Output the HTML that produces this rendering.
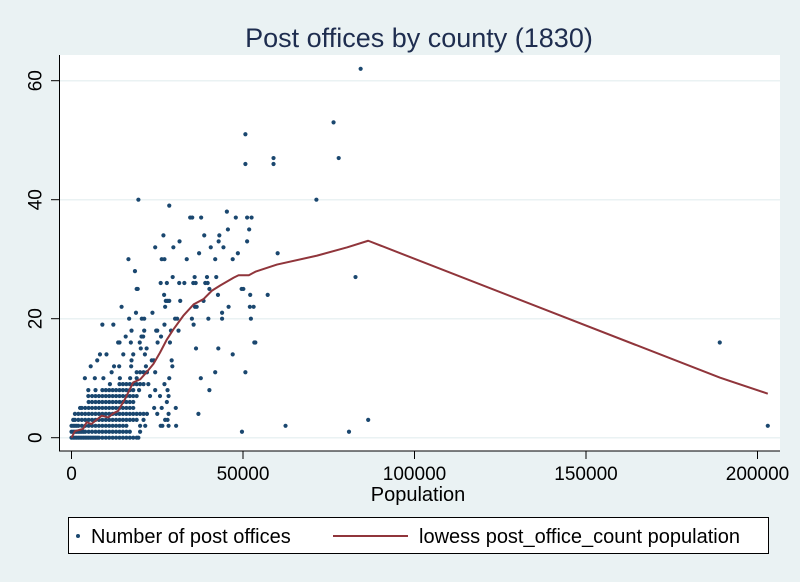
<!DOCTYPE html>
<html><head><meta charset="utf-8"><style>
html,body{margin:0;padding:0;background:#eaf2f3;}
svg{display:block;font-family:"Liberation Sans",sans-serif;}
</style></head><body>
<svg id="chart" width="800" height="582" viewBox="0 0 800 582" xmlns="http://www.w3.org/2000/svg">
<rect x="0" y="0" width="800" height="582" fill="#eaf2f3"/>
<text x="419" y="47" text-anchor="middle" font-size="27" fill="#1e2d4f">Post offices by county (1830)</text>
<rect x="59" y="55" width="721" height="396" fill="#fff"/>
<g id="grid"></g>
<g id="yaxis"></g>
<g id="xaxis"></g>
<g id="points"></g>
<g id="lowess"></g>
<text x="418" y="501" text-anchor="middle" font-size="20" fill="#000">Population</text>
<g>
<rect x="68.5" y="517.5" width="700" height="36" fill="#fff" stroke="#000" stroke-width="1"/>
<circle cx="78" cy="536" r="2" fill="#1a476f"/>
<text x="91" y="543" font-size="20" fill="#000">Number of post offices</text>
<line x1="333" y1="536" x2="408" y2="536" stroke="#90353b" stroke-width="2"/>
<text x="419" y="543" font-size="20" fill="#000">lowess post_office_count population</text>
</g>
</svg>
<script>
const xTicks=[0,50000,100000,150000,200000];
const yTicks=[0,20,40,60];
const rowCounts=[0,1,2,3,4,5,6,7,8,9,10,11,12,13,14,15,16,17,18,19,20,21,22,23,24,25,26,27,28,29,30,31,32,33,34,35,37,38,39,40,46,47,51,53,62];
const rowPopsK=[
[0,0.5,1,1.5,2,2.5,3,3.5,4,4.5,5,5.5,6,6.5,7,7.5,8,9,10,11,12,13,14,15,16,17,18,19,19.5],
[0,0.5,1,1.5,2,2.5,3,3.5,4,5,6,7,8,9,10,11,12,13,14,15,16,17,20,49.7,80.9],
[0,0.5,1,1.5,2,3,4,5,6,7,8,9,10,11,12,13,14,15,16,20,21.5,26,26.5,28.3,30.5,62.4,203],
[0.5,1,2,3,4,5,6,7,8,9,10,11,12,13,14,15,16,17,18,19,21,27.3,28,86.5],
[1,2,3,4,5,6,7,8,9,10,11,12,13,14,15,16,17,18,19,20,21,22,25,28.3,37],
[2.5,3,4,5,6,7,8,9,10,11,12,13,14,15,16,17,18,24.1,26.3,30.4],
[5,6,7,8,9,10,11,12,13,14,15,16,17,18,27.8],
[4.9,6,7,8,9,10,11,12,13,14,15,16,17,18,19,22.9,25.8,28.3],
[4.9,7,9,10,11,12,13,14,15,16,17,18,19.7,24.4,28,40.2],
[11.2,14,15,16,17,18,19,20,21,22.4,27.1],
[3.9,6.8,9.3,14.1,17.1,19,28.5,37.7],
[11.7,19,20,21,22,24.4,41.9,50.7],
[5.6,12.4,13.9,17.4,21.7,29.4],
[7.5,17.5,23.4,24,29.2],
[8.3,10.2,15.1,18,21.4,47],
[20.2,21.9,36.3,42.8],
[13.6,14,17.3,19.9,25.1,28.7,53.3,53.6],
[15.8,20.4,20.9,26.1],
[17.5,21.2,24.7,25,29,31.2],
[9,12.2,27.1,35.6],
[16.8,20.5,21.2,30.2,30.8,35.1,39.9,43.9,52.3],
[18.8,23.6,43.9],
[14.6,27.3,36,36.5,45.8,53.1,52],
[27.5,28,28.5,31.7,38.5],
[27,42.7,52.1,57.2],
[19,19.3,40.2,49.6,50.1],
[26,27.8,31.4,32.9,35.5,36.2,39,39.7],
[29.5,35.9,39.5,42.2,82.8],
[18.5],
[],
[16.6,26.3,27.1,33.6,41.9,47],
[37.2,48.5,60.1],
[24.4,29.7,40.6,44.3],
[31.5,42.9,51.2],
[26.8,38.7,43.1],
[45.6,51.8],
[34.6,35.2,37.8,47.9,51.2,52.5],
[45.3],
[28.5],
[19.5,71.4],
[50.7,58.9],
[58.9,77.9],
[50.7],
[76.4],
[84.3]
];
const lowessPopK=[0,1,3.4,4.4,5.8,8.8,10.7,12.2,13.6,15.6,18,20,21.9,23.9,25.8,27.8,29.7,32.6,35.6,38.5,40.9,43.4,47.3,48.7,51.7,53.6,59.9,71.6,80.4,86.5,189,203];
const lowessVals=[0,1.1,1.5,2.6,2.3,3.7,3.4,4.1,4.5,6.5,9.3,9.8,11,12.4,14.3,16.5,18.2,20.5,22.4,23.3,24.7,25.6,26.9,27.3,27.3,27.9,29.1,30.6,32,33.1,10.1,7.4];
const extraPopK=[189];
const extraCnt=[16];

const NS="http://www.w3.org/2000/svg";
const X=v=>71.5+v*(757.5-71.5)/200000;
const Y=v=>437.7-v*(437.7-80.7)/60;
function mk(t,a,p){const e=document.createElementNS(NS,t);for(const k in a)e.setAttribute(k,a[k]);p.appendChild(e);return e;}
const grid=document.getElementById('grid'),ya=document.getElementById('yaxis'),xa=document.getElementById('xaxis'),pts=document.getElementById('points'),lw=document.getElementById('lowess');
yTicks.forEach(t=>{
 const g=mk('line',{x1:59,x2:780,y1:Y(t),y2:Y(t),stroke:'#eaf2f3','stroke-width':1.5},grid);
 
 
 const tk=mk('line',{x1:51,x2:59,y1:Y(t),y2:Y(t),stroke:'#000','stroke-width':1},ya);
 
 
 const tx=mk('text',{x:35,y:Y(t),'text-anchor':'middle','font-size':19,transform:'rotate(-90 35 '+Y(t)+')',dy:'0.35em'},ya);
 tx.textContent=t;
 
 
});
const ax=mk('line',{x1:59.5,x2:59.5,y1:55,y2:451,stroke:'#000','stroke-width':1},ya);


const bx=mk('line',{x1:59,x2:780,y1:451,y2:451,stroke:'#000','stroke-width':1},xa);


xTicks.forEach(t=>{
 const tk=mk('line',{x1:X(t),x2:X(t),y1:451,y2:459,stroke:'#000','stroke-width':1},xa);
 
 
 const tx=mk('text',{x:X(t),y:480,'text-anchor':'middle','font-size':19},xa);
 tx.textContent=t;
 
 
});
function dot(p,c){
 const d=mk('circle',{cx:X(p*1000),cy:Y(c),r:2.1,fill:'#1a476f'},pts);
 
 
}
rowCounts.forEach((c,i)=>rowPopsK[i].forEach(p=>dot(p,c)));
extraPopK.forEach((p,i)=>dot(p,extraCnt[i]));
const path=mk('polyline',{points:lowessPopK.map((p,i)=>X(p*1000)+','+Y(lowessVals[i])).join(' '),fill:'none',stroke:'#90353b','stroke-width':2,'stroke-linejoin':'round'},lw);


</script>
</body></html>
